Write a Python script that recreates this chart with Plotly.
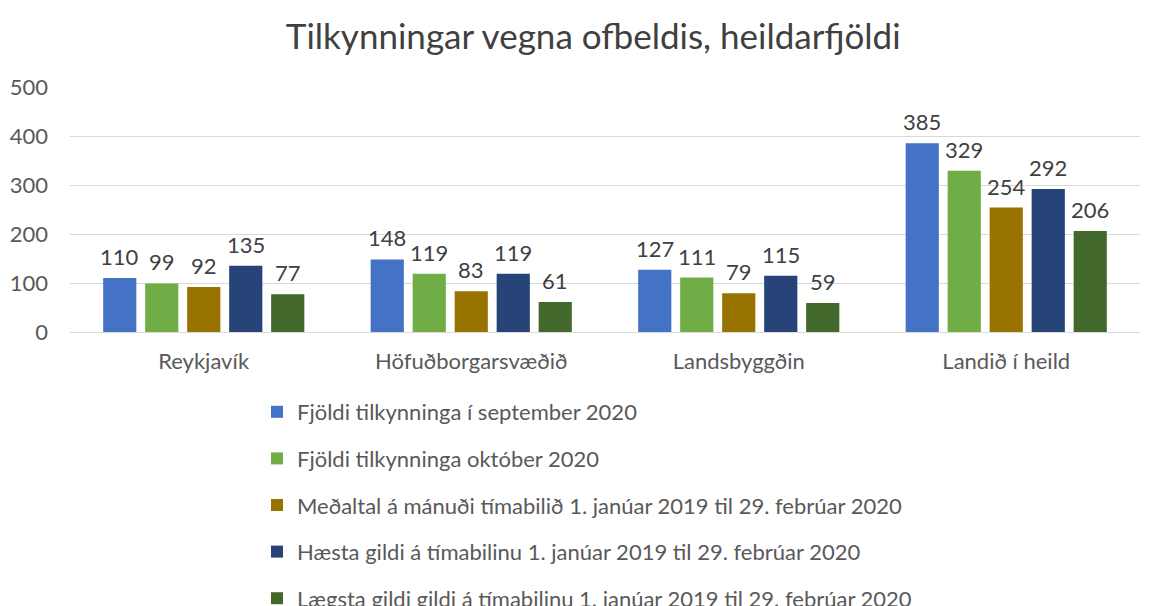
import plotly.graph_objects as go

categories = ["Reykjavík", "Höfuðborgarsvæðið", "Landsbyggðin", "Landið í heild"]
series_names = [
    "Fjöldi tilkynninga í september 2020",
    "Fjöldi tilkynninga október 2020",
    "Meðaltal á mánuði tímabilið 1. janúar 2019 til 29. febrúar 2020",
    "Hæsta gildi á tímabilinu 1. janúar 2019 til 29. febrúar 2020",
    "Lægsta gildi gildi á tímabilinu 1. janúar 2019 til 29. febrúar 2020",
]
sept_2020 = [110, 148, 127, 385]
okt_2020 = [99, 119, 111, 329]
medaltal = [92, 83, 79, 254]
haesta = [135, 119, 115, 292]
laegsta = [77, 61, 59, 206]
series_values = [sept_2020, okt_2020, medaltal, haesta, laegsta]
colors = ["#4472C4", "#70AD47", "#997300", "#264478", "#43682B"]
y_ticks = [0, 100, 200, 300, 400, 500]

FONT = "Lato"
W, H = 1152, 606
ML, MR = 62, 20
BARGAP = 0.215
fig = go.Figure()
for i, (name, vals, col) in enumerate(zip(series_names, series_values, colors)):
    fig.add_trace(go.Bar(
        x=categories, y=vals, name=name,
        marker=dict(color=col, line=dict(width=0)),
        cliponaxis=False, legendgroup=f"g{i}",
    ))

# data labels above each bar, positioned via the axes
cat_px = (W - ML - MR) / len(categories)
slot_px = cat_px * (1 - BARGAP) / len(series_values)
n = len(series_values)
for i, vals in enumerate(series_values):
    for c, v in zip(categories, vals):
        fig.add_annotation(
            x=c, y=v, xref="x", yref="y", text=str(v), showarrow=False,
            xanchor="center", yanchor="bottom",
            xshift=(i - (n - 1) / 2) * slot_px, yshift=6,
            font=dict(family=FONT, size=22, color="#404040"),
        )

fig.update_layout(
    width=W, height=H,
    paper_bgcolor="white", plot_bgcolor="white",
    margin=dict(l=ML, r=MR, t=79, b=282, autoexpand=False),
    barmode="group", bargap=BARGAP, bargroupgap=0.21,
    title=dict(text="Tilkynningar vegna ofbeldis, heildarfjöldi",
               font=dict(family=FONT, size=35, color="#404040"),
               x=0.508, xanchor="center", y=1 - 29/606, yanchor="middle"),
    font=dict(family=FONT, color="#595959"),
    showlegend=True,
    legend=dict(
        orientation="v", xref="container", yref="container",
        x=249/1152, xanchor="left", y=1 - 383/606, yanchor="top",
        font=dict(family=FONT, size=22, color="#595959"),
        tracegroupgap=15, itemwidth=30, bgcolor="rgba(0,0,0,0)",
    ),
)
fig.update_yaxes(range=[0, 500], tickvals=y_ticks, showgrid=True,
                 gridcolor="#D9D9D9", gridwidth=1, zeroline=False,
                 showline=False, ticks="", ticklabelstandoff=21,
                 tickfont=dict(family=FONT, size=22, color="#595959"))
fig.update_xaxes(showline=True, linecolor="#D9D9D9", linewidth=1, ticks="",
                 tickangle=0, ticklabelstandoff=10,
                 tickfont=dict(family=FONT, size=22, color="#595959"))

fig.write_html("out.html")
